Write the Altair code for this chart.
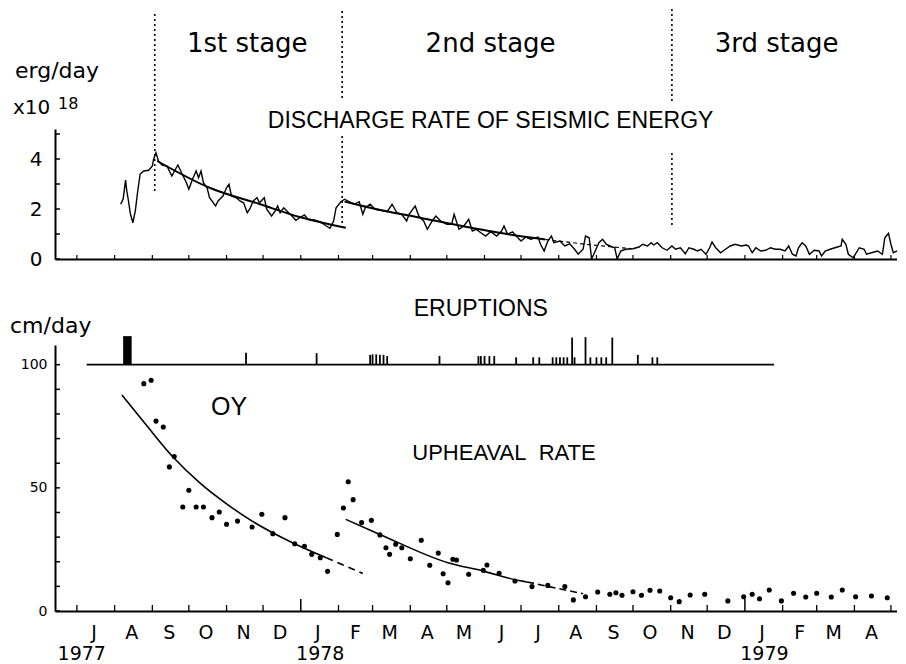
import altair as alt
import pandas as pd

# ---------------- data (x = days since 1 June 1977) ----------------
seis_day = [66,68,70,71,72,74,76,78,80,82,85,89,92,93,95,97,100,104,108,111,113,116,120,122,125,128,130,132,134,137,139,144,146,150,153,155,157,161,164,167,170,172,175,178,180,184,186,190,193,195,197,200,204,206,210,213,217,220,226,231,235,238,241,243,247,250,254,258,262,265,267,271,275,280,285,289,293,297,301,303,308,311,315,318,322,325,329,334,338,340,344,348,352,355,358,362,366,370,375,379,381,384,388,391,395,399,403,409,411,414,417,420,422,427,431,435,439,442,446,448,451,453,456,459,462,465,468,472,474,477,481,487,492,495,499,502,504,507,511,515,519,522,526,530,533,537,540,543,547,550,552,555,559,563,567,571,576,580,582,585,588,592,596,600,604,608,612,615,618,621,623,626,629,632,636,640,642,645,649,653,658,659,662,664,668,673,677,679,683,688,692,694,697,699,701,704,707,710]
seis_val = [2.19,2.40,3.16,2.72,2.44,1.80,1.45,1.92,2.72,3.40,3.52,3.55,3.72,3.99,4.25,3.92,3.76,3.72,3.32,3.59,3.76,3.45,3.05,2.79,3.19,3.52,3.25,3.52,3.05,2.85,2.45,2.12,2.32,2.52,2.85,2.99,2.52,2.45,2.32,2.25,1.85,1.99,2.32,2.45,2.25,2.45,1.99,1.72,1.92,2.12,1.85,2.05,1.85,1.76,1.55,1.65,1.76,1.59,1.55,1.45,1.32,1.23,1.52,2.05,2.29,2.39,2.29,2.19,2.29,1.79,2.05,2.19,1.99,1.95,1.89,2.19,1.85,1.79,1.52,1.79,2.12,1.72,1.52,1.19,1.52,1.72,1.52,1.39,1.39,1.79,1.19,1.32,1.59,1.12,1.19,1.05,0.92,1.09,0.92,1.12,1.32,0.99,1.09,0.92,0.72,0.88,0.79,0.88,0.59,0.32,0.72,0.92,0.65,0.72,0.52,0.61,0.39,0.19,0.39,0.92,0.85,0.00,0.32,0.65,0.79,0.59,0.52,0.45,0.00,0.32,0.39,0.41,0.48,0.59,0.52,0.65,0.56,0.65,0.45,0.35,0.52,0.39,0.45,0.21,0.45,0.39,0.32,0.39,0.19,0.45,0.68,0.45,0.25,0.39,0.52,0.59,0.52,0.56,0.52,0.25,0.45,0.32,0.35,0.45,0.39,0.39,0.32,0.52,0.19,0.12,0.45,0.65,0.52,0.19,0.35,0.32,0.12,0.32,0.39,0.45,0.52,0.79,0.59,0.19,0.05,0.45,0.39,0.19,0.25,0.32,0.19,0.85,1.03,0.59,0.25,0.32,0.19,0.25]

fit1_day = [96, 139, 180, 213, 251]
fit1_val = [3.92, 2.85, 2.20, 1.68, 1.25]
fit2_day = [250, 271, 312, 377, 415]
fit2_val = [2.30, 2.05, 1.65, 1.05, 0.78]
fit2d_day = [415, 450, 486]
fit2d_val = [0.78, 0.58, 0.41]

stage_names = ["1st stage", "2nd stage", "3rd stage"]
stage_label_day = [170, 370, 605]
stage_div_day = [94, 248, 519]

up_day = [85,91,95,101,106,110,117,122,128,134,141,147,153,162,174,182,191,201,209,217,223,230,236,244,249,253,257,264,272,279,284,287,292,297,304,313,320,327,331,335,339,342,352,364,367,377,390,404,417,431,438,448,458,468,473,478,487,494,501,509,518,525,534,546,565,578,585,591,599,609,619,629,638,650,659,670,683,696]
up_val = [92.3,93.7,77.1,74.7,58.5,62.7,42.2,49.0,42.2,42.2,37.9,40.2,35.2,36.5,34.1,39.3,31.4,37.9,27.3,26.3,23.0,21.6,16.1,31.1,41.8,52.5,45.2,35.9,36.8,30.9,25.7,23.0,27.1,25.7,21.2,28.7,18.6,23.5,15.1,11.5,21.0,20.7,14.9,16.5,18.7,15.3,12.2,9.9,10.4,9.9,4.5,5.8,7.7,6.8,7.4,6.4,7.8,6.4,8.4,8.1,5.4,3.8,6.5,6.8,4.1,5.8,6.8,5.0,8.5,4.1,7.2,5.7,7.2,5.7,8.5,5.8,6.1,5.4]

cur1_day = [67, 87, 109, 131, 153, 174, 208, 235]
cur1_val = [87.7, 75.5, 62.5, 52.0, 43.5, 36.5, 27.5, 21.6]
cur1d_day = [235, 265]
cur1d_val = [21.6, 15.2]
cur2_day = [251, 279, 335, 364, 391, 400]
cur2_val = [37.2, 31.1, 19.6, 16.2, 12.6, 11.8]
cur2d_day = [400, 418, 446]
cur2d_val = [11.8, 9.9, 7.0]

erupt_line_day = [38, 603]
erupt_block_start = [68]
erupt_block_end = [75]
erupt_block_top = [111.6]
spike_day = [169,227,271,273,276,279,282,285,328,360,362,365,369,373,391,405,410,421,424,427,430,433,437,439,448,452,457,461,465,470,491,503,507]
spike_top = [104.9,104.7,104,104.2,104.2,104,104,103.5,103.6,103.5,103.5,103.5,103.5,103.5,103,103,103,103,103,103,103,103,111,103,111.2,103,103,103,103,111,104,103,103]

month_letters = ["J","A","S","O","N","D","J","F","M","A","M","J","J","A","S","O","N","D","J","F","M","A"]
year_labels = ["1977", "1978", "1979"]
year_day = [34, 230, 595]

BASE = pd.Timestamp("1977-06-01")
month_starts = pd.date_range("1977-07-01", "1979-05-01", freq="MS")
tick_day = [(m - BASE).days for m in month_starts]
tick_jan = [bool(m.month == 1) for m in month_starts]
label_day = [(m - BASE).days + 14 for m in month_starts[:-1]]

# ---------------- layout ----------------
W = 842
HT = 130
HB = 266
SANS = "Liberation Sans"
DV = "DejaVu Sans"

xs = alt.Scale(domain=[12, 704], nice=False, zero=False)
ax_x = alt.Axis(labels=False, ticks=False, title=None, domainWidth=2,
                domainColor="black", grid=False)


def X(field="day"):
    return alt.X(f"{field}:Q", scale=xs, axis=ax_x)


ys_top = alt.Scale(domain=[0, 5.2], nice=False, zero=False)
ay_top = alt.Axis(values=[0, 2, 4], tickSize=0, labelPadding=13, labelFontSize=20,
                  labelFont=DV, labelColor="black", domainWidth=2,
                  domainColor="black", title=None, grid=False)
ys_bot = alt.Scale(domain=[0, 108], nice=False, zero=False)
ay_bot = alt.Axis(values=[0, 50, 100], tickSize=0, labelPadding=8, labelFontSize=14,
                  labelFont=DV, labelColor="black", domainWidth=2,
                  domainColor="black", title=None, grid=False)


def YT(field="v"):
    return alt.Y(f"{field}:Q", scale=ys_top, axis=ay_top)


def YB(field="v"):
    return alt.Y(f"{field}:Q", scale=ys_bot, axis=ay_bot)


def text_px(txt, x, y, size, font, align="left", baseline="middle"):
    return alt.Chart(pd.DataFrame({"t": [txt]})).mark_text(
        font=font, fontSize=size, align=align, baseline=baseline, color="black"
    ).encode(x=alt.value(x), y=alt.value(y), text="t:N")


def text_day(txts, days, y, size, font, align="center"):
    return alt.Chart(pd.DataFrame({"t": txts, "day": days})).mark_text(
        font=font, fontSize=size, align=align, baseline="middle", color="black"
    ).encode(x=X(), y=alt.value(y), text="t:N")


# ---------------- top panel ----------------
seis = alt.Chart(pd.DataFrame({"day": seis_day, "v": seis_val})).mark_line(
    color="black", strokeWidth=1.4, clip=True).encode(x=X(), y=YT())
fit1 = alt.Chart(pd.DataFrame({"day": fit1_day, "v": fit1_val})).mark_line(
    color="black", strokeWidth=2, interpolate="monotone").encode(x=X(), y=YT())
fit2 = alt.Chart(pd.DataFrame({"day": fit2_day, "v": fit2_val})).mark_line(
    color="black", strokeWidth=2, interpolate="monotone").encode(x=X(), y=YT())
fit2d = alt.Chart(pd.DataFrame({"day": fit2d_day, "v": fit2d_val})).mark_line(
    color="black", strokeWidth=1.2, strokeDash=[4, 3]).encode(x=X(), y=YT())

segs = [(0, -115, 65), (1, -118, -28), (1, 7, 97), (2, -120, -28), (2, 24, 99)]
dividers = [
    alt.Chart(pd.DataFrame({"day": [stage_div_day[i]]})).mark_rule(
        color="black", strokeWidth=1.6, strokeDash=[2, 3]
    ).encode(x=X(), y=alt.value(y1), y2=alt.value(y2))
    for i, y1, y2 in segs
]

ytick_top = alt.Chart(pd.DataFrame({"v": [0, 1, 2, 3, 4, 5]})).mark_rule(
    color="black", strokeWidth=1.5).encode(x=alt.value(0), x2=alt.value(5), y=YT())
xtick_top = alt.Chart(pd.DataFrame({"day": tick_day})).mark_rule(
    color="black", strokeWidth=1.2).encode(x=X(), y=alt.value(HT), y2=alt.value(HT - 4))

top = alt.layer(
    seis, fit1, fit2, fit2d, *dividers, ytick_top, xtick_top,
    text_day(stage_names, stage_label_day, -85, 26, DV),
    text_px("erg/day", -40, -58, 22, DV),
    text_px("x10", -42, -15, 20, DV, baseline="alphabetic"),
    text_px("18", 3, -20, 16, DV, baseline="alphabetic"),
    text_day(["DISCHARGE RATE OF SEISMIC ENERGY"], [370], -8, 23, SANS),
).properties(width=W, height=HT)

# ---------------- bottom panel ----------------
erupt_line = alt.Chart(pd.DataFrame({"day": erupt_line_day, "v": [100, 100]})).mark_line(
    color="black", strokeWidth=1.8).encode(x=X(), y=YB())
erupt_block = alt.Chart(pd.DataFrame({"day": erupt_block_start, "end": erupt_block_end,
                                      "v": [100], "top": erupt_block_top})).mark_rect(
    color="black").encode(x=X(), x2="end:Q", y=YB(), y2="top:Q")
spikes = alt.Chart(pd.DataFrame({"day": spike_day, "v": [100] * len(spike_day),
                                 "top": spike_top})).mark_rule(
    color="black", strokeWidth=1.8).encode(x=X(), y=YB(), y2="top:Q")
dots = alt.Chart(pd.DataFrame({"day": up_day, "v": up_val})).mark_circle(
    color="black", size=26, opacity=1).encode(x=X(), y=YB())
c1 = alt.Chart(pd.DataFrame({"day": cur1_day, "v": cur1_val})).mark_line(
    color="black", strokeWidth=1.6, interpolate="monotone").encode(x=X(), y=YB())
c1d = alt.Chart(pd.DataFrame({"day": cur1d_day, "v": cur1d_val})).mark_line(
    color="black", strokeWidth=1.6, strokeDash=[7, 5]).encode(x=X(), y=YB())
c2 = alt.Chart(pd.DataFrame({"day": cur2_day, "v": cur2_val})).mark_line(
    color="black", strokeWidth=1.6, interpolate="monotone").encode(x=X(), y=YB())
c2d = alt.Chart(pd.DataFrame({"day": cur2d_day, "v": cur2d_val})).mark_line(
    color="black", strokeWidth=1.6, strokeDash=[7, 4], interpolate="monotone").encode(x=X(), y=YB())

ytick_bot = alt.Chart(pd.DataFrame({"v": list(range(0, 101, 10))})).mark_rule(
    color="black", strokeWidth=1.5).encode(x=alt.value(0), x2=alt.value(5), y=YB())
tick_df = pd.DataFrame({"day": tick_day, "jan": tick_jan})
xtick_bot = alt.Chart(tick_df[~tick_df["jan"]]).mark_rule(
    color="black", strokeWidth=1.3).encode(x=X(), y=alt.value(HB), y2=alt.value(HB - 6))
xtick_jan = alt.Chart(tick_df[tick_df["jan"]]).mark_rule(
    color="black", strokeWidth=1.5).encode(x=X(), y=alt.value(HB), y2=alt.value(HB - 12))

bottom = alt.layer(
    erupt_line, erupt_block, spikes, c1, c1d, c2, c2d, dots,
    ytick_bot, xtick_bot, xtick_jan,
    text_day(["ERUPTIONS"], [362], -36, 23, SANS),
    text_px("cm/day", -45, -19, 22, DV),
    text_day(["OY"], [155], 62, 25, SANS),
    text_day(["UPHEAVAL\u00a0\u00a0RATE"], [381], 108, 22, SANS),
    text_day(month_letters, label_day, HB + 22, 19, DV),
    text_day(year_labels, year_day, HB + 43, 19, DV),
).properties(width=W, height=HB)

chart = alt.vconcat(top, bottom, spacing=29).properties(
    padding={"left": 2, "right": 0, "top": 0, "bottom": 0}
).configure_view(stroke=None)

chart.save("out.html", embed_options={"renderer": "svg", "actions": False})
